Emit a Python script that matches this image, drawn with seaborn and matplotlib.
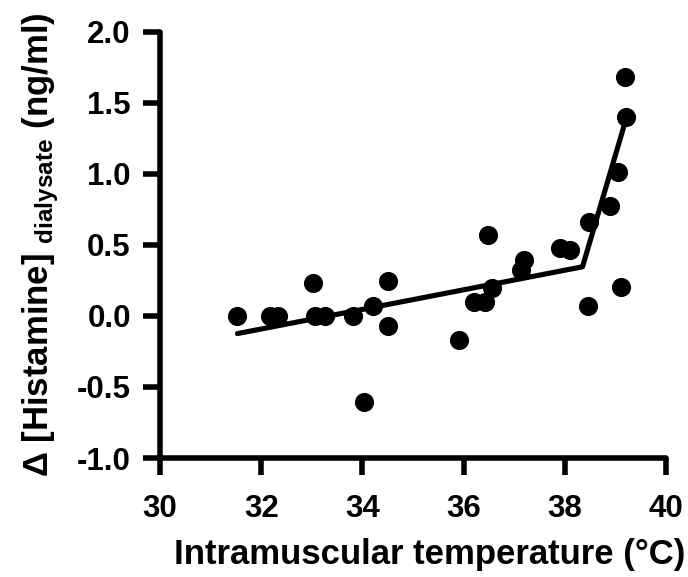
import matplotlib
matplotlib.use("Agg")
import matplotlib.pyplot as plt
import seaborn as sns
import pandas as pd

# Data
temperature = [31.53, 32.18, 32.34, 33.03, 33.06, 33.26, 33.82, 34.2, 34.5, 34.5, 34.03,
               35.9, 36.21, 36.42, 36.49, 36.56, 37.19, 37.14, 37.91, 38.11, 38.45,
               38.48, 38.89, 39.06, 39.12, 39.2, 39.19]
histamine = [0.0, 0.0, 0.0, 0.23, 0.0, 0.0, 0.0, 0.066, 0.245, -0.07, -0.605,
             -0.17, 0.10, 0.10, 0.57, 0.195, 0.39, 0.32, 0.48, 0.465, 0.07,
             0.66, 0.77, 1.01, 0.20, 1.40, 1.68]

fit_x = [31.53, 38.35, 39.19]
fit_y = [-0.125, 0.345, 1.36]

x_ticks = [30, 32, 34, 36, 38, 40]
y_ticks = [-1.0, -0.5, 0.0, 0.5, 1.0, 1.5, 2.0]

sns.set_style("ticks", rc={
    "axes.edgecolor": "black", "text.color": "black", "axes.labelcolor": "black",
    "xtick.color": "black", "ytick.color": "black",
})
plt.rcParams['font.family'] = ['Liberation Sans', 'DejaVu Sans']
plt.rcParams['mathtext.fontset'] = 'custom'
plt.rcParams['mathtext.rm'] = 'Liberation Sans'
plt.rcParams['mathtext.bf'] = 'Liberation Sans:bold'
plt.rcParams['mathtext.it'] = 'Liberation Sans:bold'

fig = plt.figure(figsize=(6.88, 5.77), dpi=100)
ax = fig.add_axes([160 / 688, 119 / 577, 506 / 688, 426.5 / 577])

pts = pd.DataFrame({"t": temperature, "h": histamine})
fit = pd.DataFrame({"t": fit_x, "h": fit_y})

sns.lineplot(data=fit, x="t", y="h", ax=ax, color="black", linewidth=3.7, sort=False)
sns.scatterplot(data=pts, x="t", y="h", ax=ax, color="black", s=190, edgecolor="black",
                linewidth=0, zorder=3)

ax.set_xlim(30, 40)
ax.set_ylim(-1.0, 2.0)
ax.set_xticks(x_ticks)
ax.set_xticklabels([str(v) for v in x_ticks])
ax.set_yticks(y_ticks)
ax.set_yticklabels([f"{v:.1f}" for v in y_ticks])
for sp in ["top", "right"]:
    ax.spines[sp].set_visible(False)
for sp in ["left", "bottom"]:
    ax.spines[sp].set_linewidth(4)
    ax.spines[sp].set_capstyle("round")
ax.tick_params(axis="both", width=4, length=12, labelsize=22.5, direction="out")
ax.tick_params(axis="x", pad=14)
ax.tick_params(axis="y", pad=9)
for lab in ax.get_xticklabels() + ax.get_yticklabels():
    lab.set_fontweight("bold")

ax.set_xlabel("Intramuscular temperature (°C)", fontsize=25, fontweight="bold", va="top")
ax.xaxis.set_label_coords(0.533, -0.188)
ax.set_ylabel(r"$\mathbf{\Delta}$ [Histamine] $_{\mathbf{dialysate}}$ (ng/ml)", fontsize=25,
              fontweight="bold")
ax.yaxis.set_label_coords(-0.195, 0.50)

fig.savefig("out.png", dpi=100)
